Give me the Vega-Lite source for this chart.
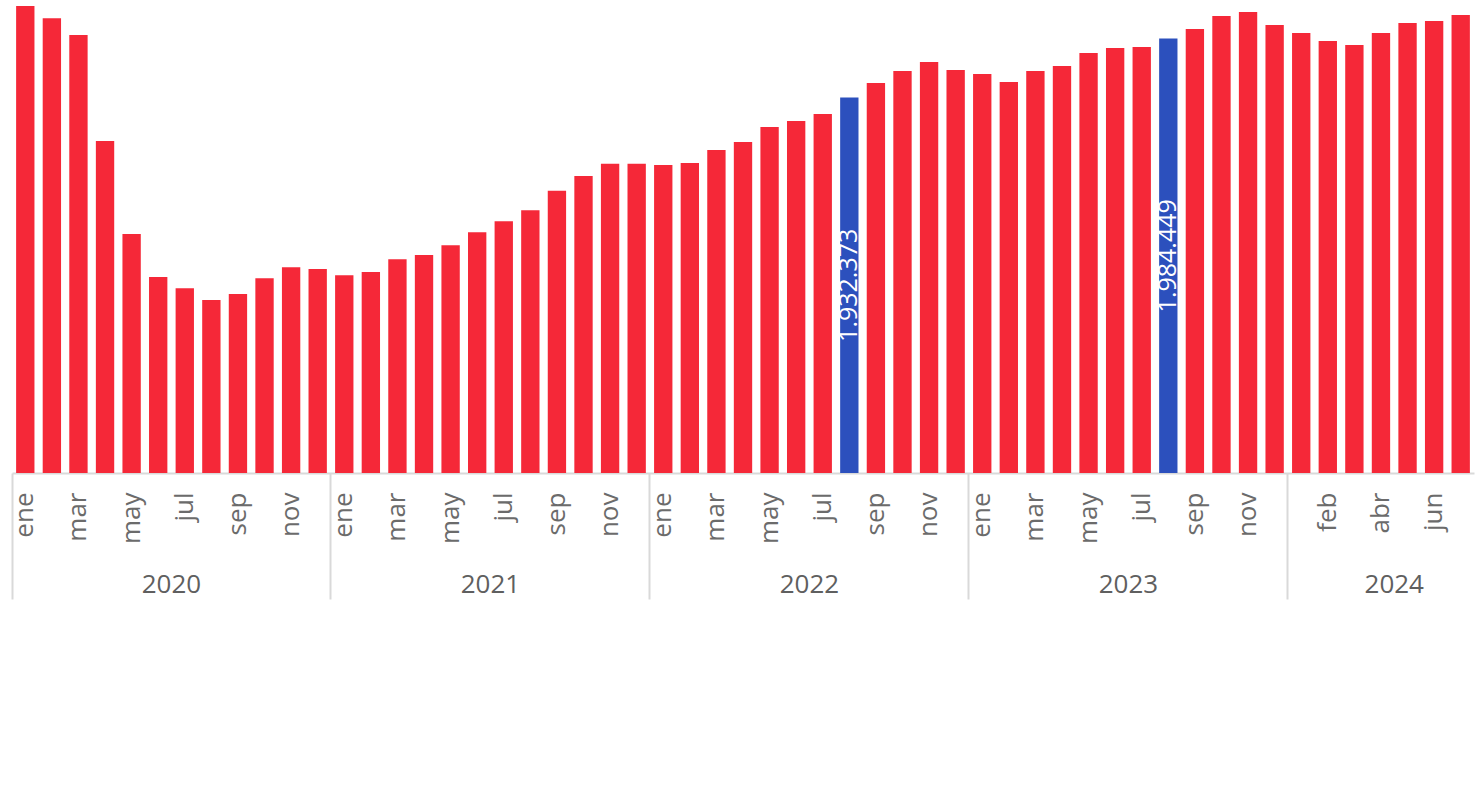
{
  "$schema": "https://vega.github.io/schema/vega-lite/v6.json",
  "width": 1462,
  "height": 473,
  "autosize": {"type": "none"},
  "padding": {"left": 12, "right": 1, "top": 0, "bottom": 330},
  "background": "white",
  "config": {
    "view": {"stroke": null},
    "locale": {"number": {"decimal": ",", "thousands": ".", "grouping": [3], "currency": ["", " €"]}}
  },
  "data": {
    "values": [
      {"ym": "2020-01", "v": 2013193, "hl": false},
      {"ym": "2020-02", "v": 2002337, "hl": false},
      {"ym": "2020-03", "v": 1987596, "hl": false},
      {"ym": "2020-04", "v": 1894036, "hl": false},
      {"ym": "2020-05", "v": 1811951, "hl": false},
      {"ym": "2020-06", "v": 1773997, "hl": false},
      {"ym": "2020-07", "v": 1764024, "hl": false},
      {"ym": "2020-08", "v": 1753697, "hl": false},
      {"ym": "2020-09", "v": 1758993, "hl": false},
      {"ym": "2020-10", "v": 1772850, "hl": false},
      {"ym": "2020-11", "v": 1782559, "hl": false},
      {"ym": "2020-12", "v": 1781059, "hl": false},
      {"ym": "2021-01", "v": 1775586, "hl": false},
      {"ym": "2021-02", "v": 1778411, "hl": false},
      {"ym": "2021-03", "v": 1789620, "hl": false},
      {"ym": "2021-04", "v": 1793416, "hl": false},
      {"ym": "2021-05", "v": 1801977, "hl": false},
      {"ym": "2021-06", "v": 1813452, "hl": false},
      {"ym": "2021-07", "v": 1823160, "hl": false},
      {"ym": "2021-08", "v": 1832870, "hl": false},
      {"ym": "2021-09", "v": 1850169, "hl": false},
      {"ym": "2021-10", "v": 1863144, "hl": false},
      {"ym": "2021-11", "v": 1874000, "hl": false},
      {"ym": "2021-12", "v": 1873900, "hl": false},
      {"ym": "2022-01", "v": 1872853, "hl": false},
      {"ym": "2022-02", "v": 1874618, "hl": false},
      {"ym": "2022-03", "v": 1886093, "hl": false},
      {"ym": "2022-04", "v": 1893154, "hl": false},
      {"ym": "2022-05", "v": 1906393, "hl": false},
      {"ym": "2022-06", "v": 1911689, "hl": false},
      {"ym": "2022-07", "v": 1917868, "hl": false},
      {"ym": "2022-08", "v": 1932373, "hl": true},
      {"ym": "2022-09", "v": 1945230, "hl": false},
      {"ym": "2022-10", "v": 1955821, "hl": false},
      {"ym": "2022-11", "v": 1963765, "hl": false},
      {"ym": "2022-12", "v": 1956704, "hl": false},
      {"ym": "2023-01", "v": 1953173, "hl": false},
      {"ym": "2023-02", "v": 1946112, "hl": false},
      {"ym": "2023-03", "v": 1955821, "hl": false},
      {"ym": "2023-04", "v": 1960234, "hl": false},
      {"ym": "2023-05", "v": 1971709, "hl": false},
      {"ym": "2023-06", "v": 1976122, "hl": false},
      {"ym": "2023-07", "v": 1977005, "hl": false},
      {"ym": "2023-08", "v": 1984449, "hl": true},
      {"ym": "2023-09", "v": 1992892, "hl": false},
      {"ym": "2023-10", "v": 2004366, "hl": false},
      {"ym": "2023-11", "v": 2007897, "hl": false},
      {"ym": "2023-12", "v": 1996423, "hl": false},
      {"ym": "2024-01", "v": 1989362, "hl": false},
      {"ym": "2024-02", "v": 1982300, "hl": false},
      {"ym": "2024-03", "v": 1978770, "hl": false},
      {"ym": "2024-04", "v": 1989362, "hl": false},
      {"ym": "2024-05", "v": 1998188, "hl": false},
      {"ym": "2024-06", "v": 1999953, "hl": false},
      {"ym": "2024-07", "v": 2005249, "hl": false}
    ]
  },
  "layer": [
    {
      "mark": {"type": "bar", "width": {"band": 0.69}},
      "encoding": {
        "x": {
          "field": "ym",
          "type": "ordinal",
          "scale": {"paddingInner": 0, "paddingOuter": 0},
          "axis": {
            "orient": "bottom",
            "title": null,
            "values": ["2020-01","2020-03","2020-05","2020-07","2020-09","2020-11",
                       "2021-01","2021-03","2021-05","2021-07","2021-09","2021-11",
                       "2022-01","2022-03","2022-05","2022-07","2022-09","2022-11",
                       "2023-01","2023-03","2023-05","2023-07","2023-09","2023-11",
                       "2024-02","2024-04","2024-06"],
            "labelExpr": "['ene','feb','mar','abr','may','jun','jul','ago','sep','oct','nov','dic'][toNumber(slice(datum.value,5,7))-1]",
            "labelAngle": 270,
            "labelFont": "Open Sans",
            "labelFontSize": 26,
            "labelColor": "#6b6b6b",
            "labelPadding": 19,
            "ticks": false,
            "tickSize": 0,
            "domain": true,
            "domainColor": "#d9d9d9",
            "domainWidth": 2
          }
        },
        "y": {
          "field": "v",
          "type": "quantitative",
          "scale": {"domain": [1601000, 2018500], "zero": false, "nice": false},
          "axis": null
        },
        "y2": {"datum": 1601000},
        "color": {
          "condition": {"test": "datum.hl", "value": "#2c50bd"},
          "value": "#f52838"
        }
      }
    },
    {
      "transform": [{"filter": "datum.hl"}],
      "mark": {
        "type": "text",
        "angle": 270,
        "align": "center",
        "baseline": "middle",
        "color": "white",
        "font": "Open Sans",
        "fontSize": 25
      },
      "encoding": {
        "x": {
          "field": "ym",
          "type": "ordinal",
          "axis": {
            "orient": "bottom",
            "title": null,
            "values": ["2020-01","2020-07","2021-01","2021-07","2022-01","2022-07","2023-01","2023-07","2024-01","2024-05"],
            "bandPosition": 0,
            "ticks": true,
            "tickSize": 126,
            "tickWidth": 2,
            "tickColor": {"condition": {"test": "slice(datum.value,5,7) == '01'", "value": "#d9d9d9"}, "value": "transparent"},
            "labelExpr": "slice(datum.value,5,7) == '01' ? '' : slice(datum.value,0,4)",
            "labelAngle": 0,
            "labelAlign": "center",
            "labelBaseline": "alphabetic",
            "labelPadding": -7,
            "labelOffset": -13.3,
            "labelFont": "Open Sans",
            "labelFontSize": 26,
            "labelColor": "#5f5f5f",
            "domain": false
          }
        },
        "y": {
          "field": "v",
          "type": "quantitative",
          "scale": {"domain": [1601000, 2436000], "zero": false, "nice": false},
          "axis": null
        },
        "text": {"field": "v", "type": "quantitative", "format": ",.0f"}
      }
    }
  ],
  "resolve": {"scale": {"y": "independent"}, "axis": {"x": "independent"}}
}
